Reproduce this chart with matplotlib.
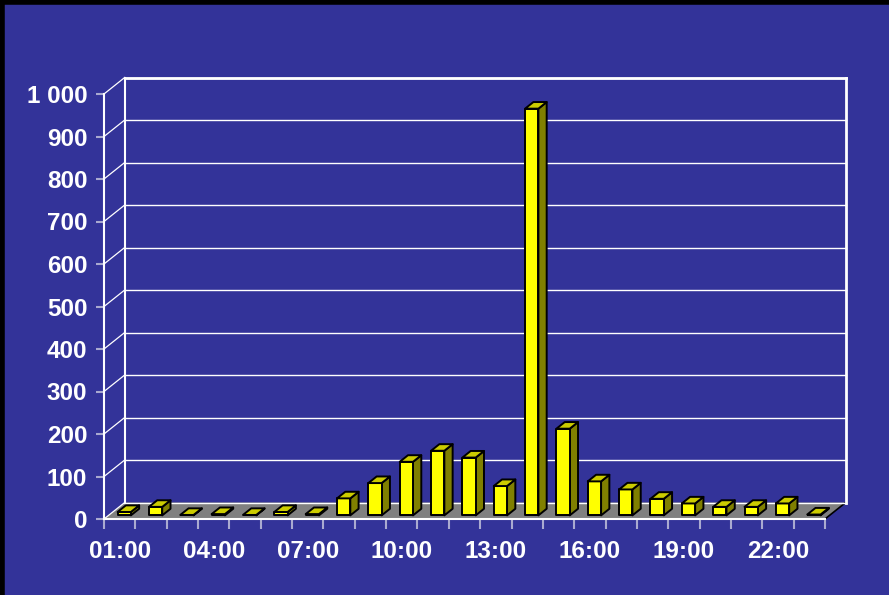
import matplotlib
matplotlib.use("Agg")
import matplotlib.pyplot as plt
from matplotlib.patches import Polygon
import numpy as np

# ---- data ----
hours = ["%02d:00" % h for h in range(1, 24)]
counts = [8, 20, 1, 3, 1, 8, 3, 40, 76, 126, 152, 136, 69, 957, 204, 80, 61, 39, 28, 20, 20, 28, 2]
label_every = 3
yticks = list(range(0, 1001, 100))
ytick_labels = ["1 000" if v == 1000 else str(v) for v in yticks]

# ---- style ----
BG = "#333399"
FLOOR = "#808080"
FRONT = "#ffff00"
SIDE = "#808000"
TOP = "#cccc00"
plt.rcParams["font.family"] = ["Liberation Sans", "DejaVu Sans"]

W, H = 889, 595
fig = plt.figure(figsize=(W / 100, H / 100), dpi=100)
fig.patch.set_facecolor(BG)

# front plane of the pseudo-3D box, in pixels
x0, x1 = 104, 825
y0, y1 = 519, 94
ax = fig.add_axes([x0 / W, 1 - y0 / H, (x1 - x0) / W, (y0 - y1) / H])
ax.set_facecolor("none")
n = len(counts)
ax.set_xlim(0, n)
ax.set_ylim(0, 1000)
for s in ax.spines.values():
    s.set_visible(False)

# depth offset of the back wall, in data units
px_x = (x1 - x0) / n
px_y = (y0 - y1) / 1000
dx = 20.7 / px_x
dy = 16.5 / px_y

# floor
ax.add_patch(Polygon([(0, 0), (n, 0), (n + dx, dy), (dx, dy)], closed=True,
                     facecolor=FLOOR, edgecolor="none", zorder=1, clip_on=False))
ax.plot([n, n + dx], [0, dy], color="black", lw=1.2, zorder=2, clip_on=False)

# back wall + side wall gridlines
for v in yticks:
    ax.plot([dx, n + dx], [v + dy, v + dy], color="white", lw=1.0, zorder=2, clip_on=False)
    ax.plot([0, dx], [v, v + dy], color="white", lw=0.9, zorder=2, clip_on=False)
ax.plot([dx, dx], [dy, 1000 + dy], color="white", lw=1.5, zorder=2, clip_on=False)
ax.plot([n + dx, n + dx], [dy, 1000 + dy], color="white", lw=2, zorder=2, clip_on=False)
ax.plot([dx, n + dx], [1000 + dy, 1000 + dy], color="white", lw=2, zorder=2, clip_on=False)
ax.plot([0, 0], [0, 1000], color="white", lw=1.5, zorder=2, clip_on=False)
ax.plot([0, n], [0, 0], color="white", lw=1.5, zorder=6, clip_on=False)

# bars
bw = 13.3 / px_x           # bar front width
f0, f1 = 0.22, 0.62        # depth fractions of front and back faces
for i, v in enumerate(counts):
    cx = i + 0.5 - bw / 2 + f0 * dx
    by = f0 * dy
    ddx, ddy = (f1 - f0) * dx, (f1 - f0) * dy
    front = [(cx, by), (cx + bw, by), (cx + bw, by + v), (cx, by + v)]
    side = [(cx + bw, by), (cx + bw + ddx, by + ddy), (cx + bw + ddx, by + v + ddy), (cx + bw, by + v)]
    top = [(cx, by + v), (cx + bw, by + v), (cx + bw + ddx, by + v + ddy), (cx + ddx, by + v + ddy)]
    for poly, c in ((side, SIDE), (front, FRONT), (top, TOP)):
        ax.add_patch(Polygon(poly, closed=True, facecolor=c, edgecolor="black",
                             lw=1.4, joinstyle="round", zorder=4, clip_on=False))

# ticks
ax.set_yticks(yticks, ytick_labels)
ax.tick_params(axis="y", colors="#aaaad0", length=6, width=1.5, pad=6,
               labelcolor="white", labelsize=17.5)
centers = [i + 0.5 for i in range(0, n, label_every)]
ax.set_xticks(centers, [hours[i] for i in range(0, n, label_every)])
ax.set_xticks(np.arange(0, n + 1), minor=True)
ax.tick_params(axis="x", which="major", length=0, pad=15, labelcolor="white", labelsize=17.5)
ax.tick_params(axis="x", which="minor", length=7, width=1.5, color="#aaaad0")
for lab in ax.get_xticklabels() + ax.get_yticklabels():
    lab.set_fontweight("bold")

# outer frame (left and top edges)
fig.add_artist(plt.Line2D([2 / W, 2 / W], [0, 1], color="black", lw=4))
fig.add_artist(plt.Line2D([0, 1], [1 - 2 / H, 1 - 2 / H], color="black", lw=4))

fig.savefig("out.png", dpi=100, facecolor=BG)
